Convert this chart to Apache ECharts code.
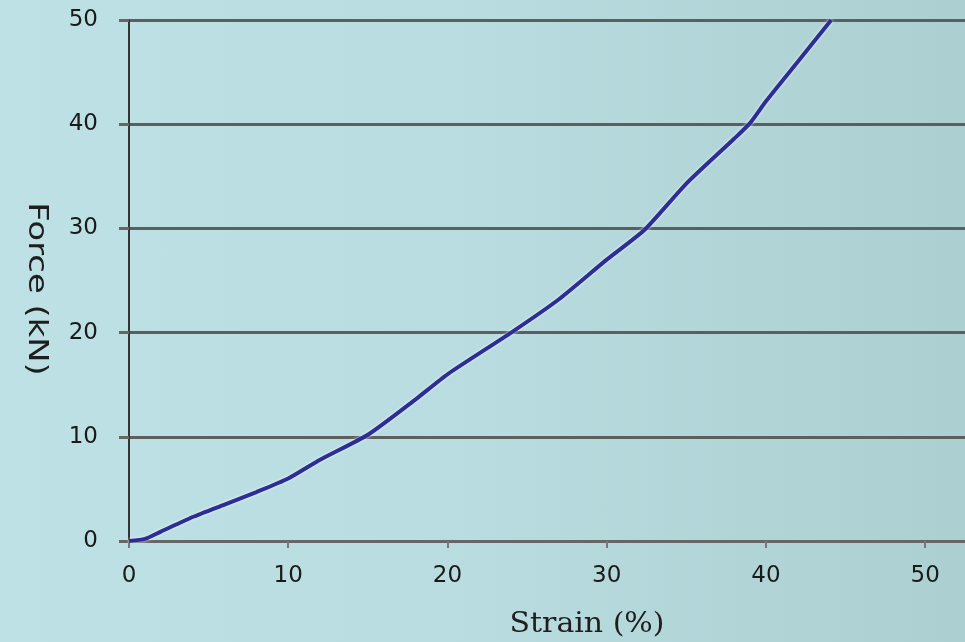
<!DOCTYPE html>
<html>
<head>
<meta charset="utf-8">
<script src="https://cdn.jsdelivr.net/npm/echarts@6/dist/echarts.min.js"></script>
<style>
html,body{margin:0;padding:0;}
#c{width:965px;height:642px;background:linear-gradient(to right,#bde1e4 0%,#b8dcdf 50%,#accfd1 100%);}
</style>
</head>
<body>
<div id="c"></div>
<script>
const strain = [0, 1, 2, 4, 6, 8, 10, 12, 15, 18, 20, 24, 27, 30, 32.4, 35, 38, 39, 40, 42, 44.1];
const force  = [0, 0.2, 0.9, 2.3, 3.5, 4.7, 6.0, 7.8, 10.2, 13.6, 16.0, 20.0, 23.2, 27.0, 29.9, 34.3, 38.6, 40.1, 42.2, 46.0, 50.0];
const xTicks = [0, 10, 20, 30, 40, 50];
const yTicks = [0, 10, 20, 30, 40, 50];
const xName = 'Strain (%)';
const yName = 'Force (kN)';

const chart = echarts.init(document.getElementById('c'), null, {renderer: 'canvas'});
chart.setOption({
  backgroundColor: 'transparent',
  animation: false,
  grid: {left: 129, right: 0, top: 20, bottom: 101, containLabel: false},
  graphic: [
    {
      type: 'text', x: 587, y: 625, scaleX: 1.07,
      style: {text: xName, fontFamily: 'DejaVu Serif', fontSize: 28, fill: '#1e1e1e',
              textAlign: 'center', textVerticalAlign: 'middle'}
    },
    {
      type: 'text', x: 36, y: 289, rotation: -Math.PI / 2, scaleX: 1.3,
      style: {text: yName, fontFamily: 'DejaVu Sans', fontSize: 26, fill: '#1e1e1e',
              textAlign: 'center', textVerticalAlign: 'middle'}
    }
  ],
  xAxis: {
    type: 'value', min: 0, max: 52.5, interval: 10,
    axisLine: {show: true, lineStyle: {color: '#666', width: 3}},
    axisTick: {show: true, length: 7, lineStyle: {color: '#777', width: 2}},
    axisLabel: {
      margin: 24, fontFamily: 'DejaVu Sans', fontSize: 23, color: '#1a1a1a',
      showMaxLabel: false,
      formatter: v => xTicks.includes(v) ? String(v) : ''
    },
    splitLine: {show: false}
  },
  yAxis: {
    type: 'value', min: 0, max: 50, interval: 10,
    axisLine: {show: true, lineStyle: {color: '#333', width: 2}},
    axisTick: {show: true, length: 10, lineStyle: {color: '#666', width: 3}},
    axisLabel: {
      margin: 31, fontFamily: 'DejaVu Sans', fontSize: 23, color: '#1a1a1a',
      formatter: v => yTicks.includes(v) ? String(v) : ''
    },
    splitLine: {show: true, lineStyle: {color: '#5e5e5e', width: 3}}
  },
  series: [{
    type: 'line',
    data: strain.map((x, i) => [x, force[i]]),
    showSymbol: false,
    smooth: 0.2,
    lineStyle: {color: '#2d2d96', width: 4, shadowColor: 'rgba(255,255,255,0.9)', shadowBlur: 3}
  }]
});
</script>
</body>
</html>
